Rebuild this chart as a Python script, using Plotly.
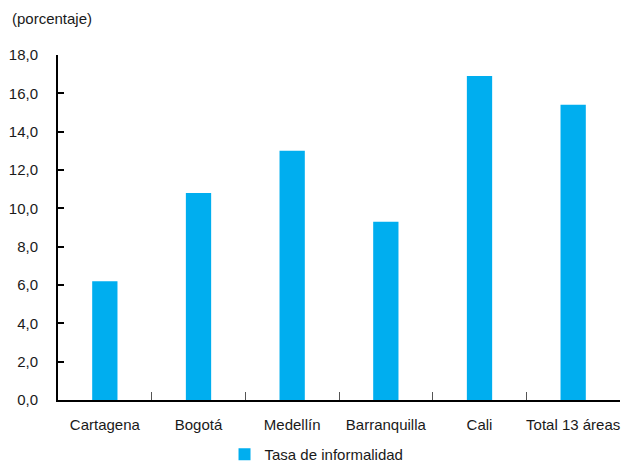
import plotly.graph_objects as go

categories = ["Cartagena", "Bogotá", "Medellín", "Barranquilla", "Cali", "Total 13 áreas"]
values = [6.2, 10.8, 13.0, 9.3, 16.9, 15.4]
series_name = "Tasa de informalidad"
y_tickvals = [0, 2, 4, 6, 8, 10, 12, 14, 16, 18]

FONT = "Liberation Sans, Arial, Helvetica, sans-serif"
BLUE = "#00AEEF"

fig = go.Figure()
fig.add_trace(go.Bar(
    x=categories, y=values, name=series_name,
    marker=dict(color=BLUE, line=dict(width=0)),
    width=0.27, showlegend=True,
))

fig.update_layout(
    width=623, height=462,
    margin=dict(l=58, r=3, t=55, b=62, autoexpand=False),
    paper_bgcolor="white", plot_bgcolor="white",
    font=dict(family=FONT, size=15, color="#1a1a1a"),
    separators=",.",
    bargap=0.73,
    showlegend=True,
    legend=dict(
        orientation="h", x=0.46, xanchor="center", y=-0.11, yanchor="top",
        font=dict(size=15), itemwidth=30, bgcolor="rgba(0,0,0,0)",
        tracegroupgap=0, borderwidth=0,
    ),
    annotations=[dict(
        text="(porcentaje)", xref="paper", yref="paper",
        x=-0.085, y=1.107, xanchor="left", yanchor="middle",
        showarrow=False, font=dict(size=15),
    )],
)

fig.update_xaxes(
    showline=True, linecolor="black", linewidth=2,
    ticks="inside", ticklen=8, tickwidth=1, tickcolor="#555555",
    tickson="boundaries", showgrid=False, zeroline=False,
    tickangle=0, automargin=False, ticklabelstandoff=10,
)
fig.update_yaxes(
    range=[0, 18], tickvals=y_tickvals, tickformat=".1f",
    showline=True, linecolor="black", linewidth=2,
    ticks="inside", ticklen=6, tickwidth=1.5, tickcolor="black",
    showgrid=False, zeroline=False, automargin=False, ticklabelstandoff=15,
)

fig.write_html("out.html")
